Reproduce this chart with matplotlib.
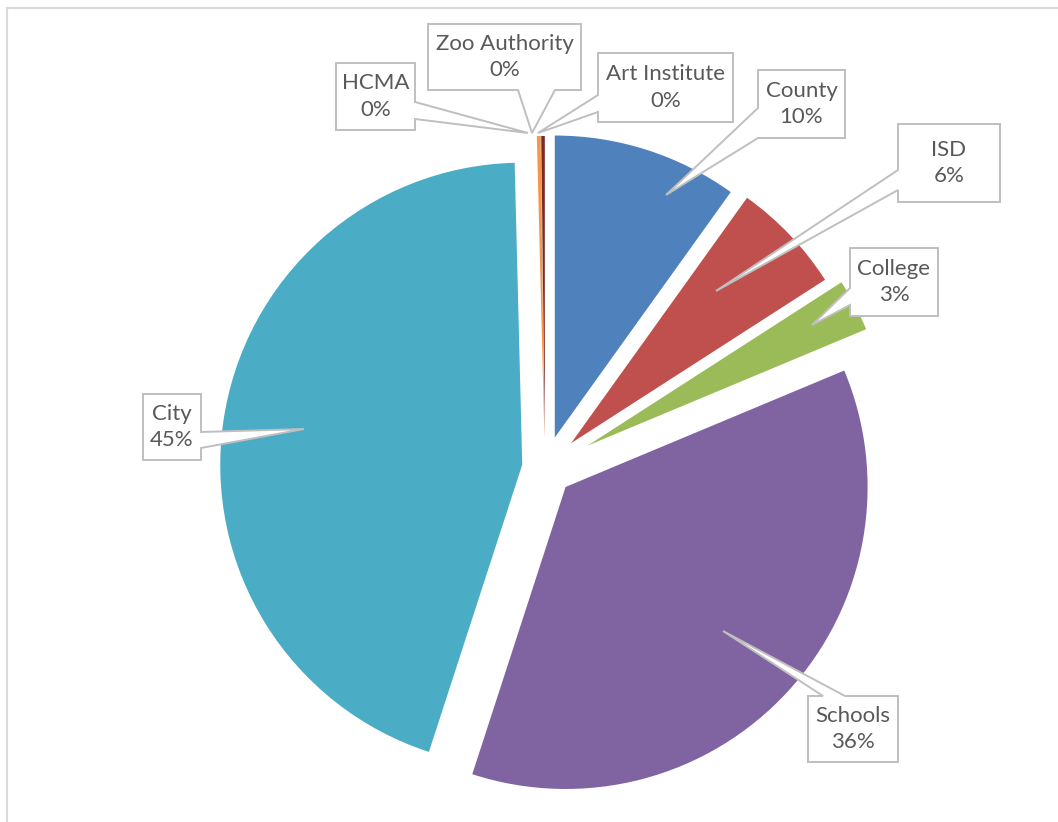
import matplotlib
matplotlib.use("Agg")
import matplotlib.pyplot as plt
from matplotlib.patches import Polygon
from matplotlib.lines import Line2D

# share of revenue by taxing unit (percent)
units = ["County", "ISD", "College", "Schools", "City",
         "HCMA", "Zoo Authority", "Art Institute"]
shares = [9.9, 6.0, 2.8, 36.3, 44.6, 0.2, 0.01, 0.19]
colors = ["#4F81BD", "#C0504D", "#9BBB59", "#8064A2", "#4BACC6",
          "#F79646", "#2C4D75", "#772C2A"]

# layout is in pixel units (y measured down from the top edge)
W, H = 1058, 822
center = (545, 468)
radius = 302
explode_px = [32, 36, 48, 28, 23, 30, 30, 30]

# callout boxes: (x0, y0, x1, y1), side carrying the pointer, base span, tip
callouts = {
    "County":        ((758, 70, 845, 138),  "left",   (108, 138), (666, 195)),
    "ISD":           ((898, 124, 1000, 202), "left",  (170, 190), (716, 291)),
    "College":       ((850, 248, 938, 316), "left",   (288, 305), (812, 325)),
    "Schools":       ((808, 696, 898, 762), "top",    (823, 845), (723, 631)),
    "City":          ((143, 394, 201, 460), "right",  (432, 448), (304, 429)),
    "HCMA":          ((336, 63, 415, 130),  "right",  (102, 119), (528, 133)),
    "Zoo Authority": ((428, 24, 581, 90),   "bottom", (518, 555), (532, 133)),
    "Art Institute": ((598, 53, 733, 122),  "left",   (95, 112),  (538, 133)),
}


def fy(y):
    return H - y


def callout_shape(box, side, base, tip):
    x0, y0, x1, y1 = box
    a, b = base
    pts = [(x0, y0)]
    if side == "top":
        pts += [(a, y0), tip, (b, y0)]
    pts.append((x1, y0))
    if side == "right":
        pts += [(x1, a), tip, (x1, b)]
    pts.append((x1, y1))
    if side == "bottom":
        pts += [(b, y1), tip, (a, y1)]
    pts.append((x0, y1))
    if side == "left":
        pts += [(x0, b), tip, (x0, a)]
    return [(x, fy(y)) for x, y in pts]


fig = plt.figure(figsize=(W / 100, H / 100), dpi=100)
ax = fig.add_axes([0, 0, 1, 1])

wedges, _ = ax.pie(shares, colors=colors, startangle=90, counterclock=False,
                   center=(center[0], fy(center[1])), radius=radius,
                   explode=explode_px, frame=True,
                   wedgeprops=dict(linewidth=0))
ax.set_xlim(0, W)
ax.set_ylim(0, H)
ax.set_aspect("equal")
ax.axis("off")

total = sum(shares)
for name, val in zip(units, shares):
    box, side, base, tip = callouts[name]
    ax.add_patch(Polygon(callout_shape(box, side, base, tip), closed=True,
                         facecolor="white", edgecolor="#bfbfbf",
                         linewidth=1.4, zorder=5))
    cx = (box[0] + box[2]) / 2
    cy = (box[1] + box[3]) / 2
    ax.text(cx, fy(cy), f"{name}\n{val / total * 100:.0f}%",
            ha="center", va="center", fontsize=16, family="Lato",
            color="#595959", linespacing=1.4, zorder=6)

# chart area outline
fig.add_artist(Line2D([7 / W, 1], [1 - 8 / H, 1 - 8 / H],
                      color="#d9d9d9", lw=1.5))
fig.add_artist(Line2D([7 / W, 7 / W], [0, 1 - 8 / H],
                      color="#d9d9d9", lw=1.5))

fig.savefig("out.png", dpi=100, facecolor="white")
